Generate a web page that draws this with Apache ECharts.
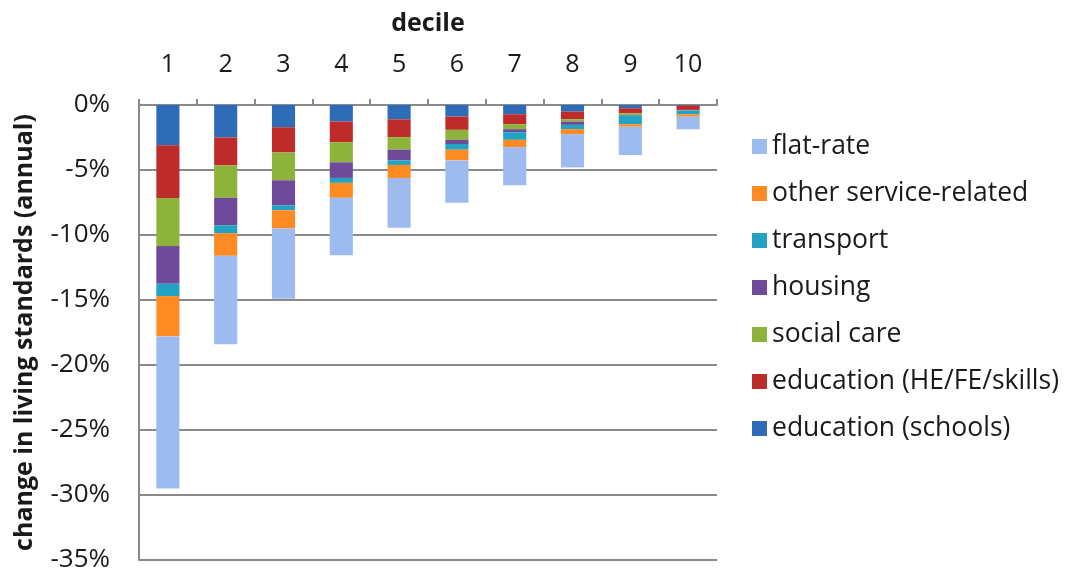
<!DOCTYPE html>
<html>
<head>
<meta charset="utf-8">
<script src="https://cdn.jsdelivr.net/npm/echarts@6/dist/echarts.min.js"></script>
<style>html,body{margin:0;padding:0;background:#fff}#c{width:1069px;height:571px}</style>
</head>
<body>
<div id="c"></div>
<script>
const categories = ['1','2','3','4','5','6','7','8','9','10'];
const schools   = [-3.1, -2.5, -1.71, -1.27, -1.1, -0.89, -0.71, -0.51, -0.25, -0.05];
const heFeSkills = [-4.05, -2.14, -1.94, -1.59, -1.37, -1.02, -0.77, -0.59, -0.39, -0.33];
const socialCare = [-3.7, -2.5, -2.14, -1.55, -0.97, -0.77, -0.38, -0.17, -0.13, -0.02];
const housing   = [-2.9, -2.11, -1.93, -1.2, -0.82, -0.32, -0.23, -0.26, -0.05, -0.02];
const transport = [-0.95, -0.61, -0.38, -0.38, -0.35, -0.44, -0.59, -0.33, -0.66, -0.3];
const otherService = [-3.1, -1.74, -1.4, -1.15, -1.0, -0.82, -0.56, -0.38, -0.19, -0.18];
const flatRate  = [-11.7, -6.8, -5.4, -4.42, -3.83, -3.26, -2.93, -2.56, -2.18, -0.97];
const yTicks = { min: -35, max: 0, interval: 5 };

const seriesDefs = [
  ['education (schools)', schools, '#2f6cb8'],
  ['education (HE/FE/skills)', heFeSkills, '#bd2b2b'],
  ['social care', socialCare, '#8db33b'],
  ['housing', housing, '#6f4a9a'],
  ['transport', transport, '#23a3c4'],
  ['other service-related', otherService, '#fd8a22'],
  ['flat-rate', flatRate, '#9dbbef']
];

const font = '"Open Sans", sans-serif';
const chart = echarts.init(document.getElementById('c'));
chart.setOption({
  animation: false,
  backgroundColor: '#fff',
  grid: { left: 139, right: 352, top: 105, bottom: 11, outerBoundsMode: 'none', containLabel: false },
  legend: {
    orient: 'vertical', left: 747, top: 128,
    data: seriesDefs.map(s => s[0]).slice().reverse(),
    itemWidth: 15, itemHeight: 15, itemGap: 20,
    icon: 'rect',
    textStyle: { fontFamily: font, fontSize: 26.5, color: '#1a1a1a', lineHeight: 26 }
  },
  xAxis: {
    type: 'category', data: categories, position: 'top',
    name: 'decile', nameLocation: 'middle', nameGap: 69,
    nameTextStyle: { fontFamily: font, fontSize: 25, fontWeight: 'bold', color: '#1a1a1a' },
    axisLine: { lineStyle: { color: '#8a8a8a', width: 2 } },
    axisTick: { show: true, alignWithLabel: false, length: 6, lineStyle: { color: '#8a8a8a', width: 2 } },
    axisLabel: { fontFamily: font, fontSize: 25, color: '#1a1a1a', margin: 28 }
  },
  yAxis: {
    type: 'value', min: yTicks.min, max: yTicks.max, interval: yTicks.interval,
    name: 'change in living standards (annual)', nameLocation: 'middle', nameGap: 102, nameRotate: 90,
    nameTextStyle: { fontFamily: font, fontSize: 25, fontWeight: 'bold', color: '#1a1a1a' },
    axisLine: { show: true, lineStyle: { color: '#8a8a8a', width: 2 } },
    axisTick: { show: false },
    splitLine: { lineStyle: { color: '#8a8a8a', width: 2 } },
    axisLabel: { fontFamily: font, fontSize: 26, color: '#1a1a1a', margin: 29, formatter: '{value}%' }
  },
  series: seriesDefs.map(([name, data, color]) => ({
    name, type: 'bar', stack: 'total', data,
    barCategoryGap: '60%',
    itemStyle: { color },
    emphasis: { disabled: true }
  }))
});
</script>
</body>
</html>
